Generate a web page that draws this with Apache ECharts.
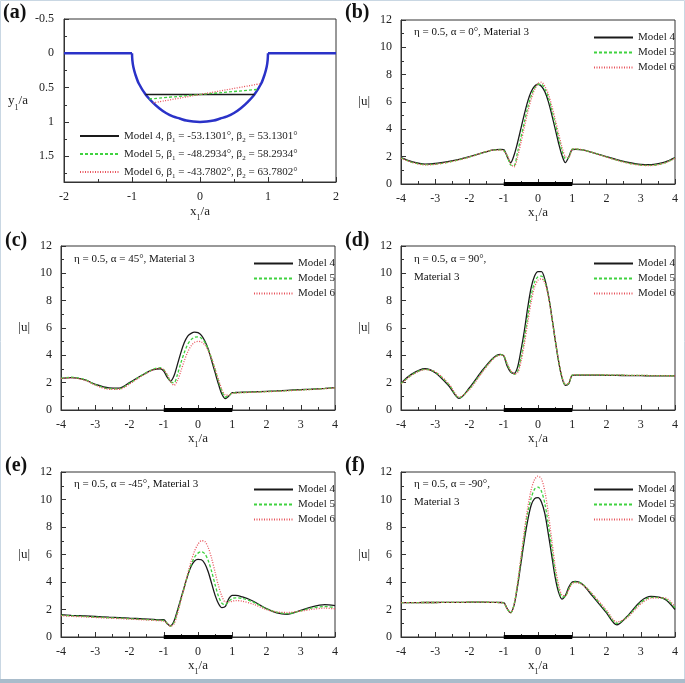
<!DOCTYPE html>
<html>
<head>
<meta charset="utf-8">
<script src="https://cdn.jsdelivr.net/npm/echarts@6/dist/echarts.min.js"></script>
<style>
  html, body { margin: 0; padding: 0; background: #fff; }
  #chart { width: 685px; height: 683px; }
</style>
</head>
<body>
<div id="chart"></div>
<script>
// x1/a sample positions shared by panels (b)-(f)
const xs = [-4, -3.7, -3.3, -3, -2.6, -2.3, -2, -1.6, -1.3, -1.1, -1, -0.9, -0.8, -0.7, -0.6, -0.5, -0.4, -0.3, -0.2, -0.1,
  0, 0.1, 0.2, 0.3, 0.4, 0.5, 0.6, 0.7, 0.8, 0.9, 1, 1.1, 1.3, 1.6, 2, 2.3, 2.6, 3, 3.3, 3.7, 4];

// (b) alpha = 0
const b4 = [1.93,1.65,1.46,1.5,1.65,1.8,2.0,2.3,2.5,2.54,2.52,2.0,1.56,2.1,3.0,4.05,5.1,6.05,6.75,7.15,7.3,7.15,6.75,6.05,5.1,4.05,3.0,2.1,1.56,2.0,2.52,2.54,2.5,2.3,2.0,1.78,1.6,1.44,1.42,1.6,1.93];
const b5 = [1.9,1.6,1.42,1.45,1.6,1.78,1.98,2.3,2.48,2.5,2.45,2.05,1.4,1.35,2.3,3.4,4.5,5.6,6.45,7.0,7.3,7.3,6.95,6.35,5.45,4.45,3.4,2.45,1.85,1.95,2.55,2.56,2.5,2.3,1.98,1.75,1.55,1.38,1.36,1.55,1.9];
const b6 = [1.88,1.6,1.4,1.44,1.6,1.77,1.97,2.3,2.48,2.48,2.42,2.1,1.5,1.25,1.95,3.0,4.15,5.25,6.2,6.9,7.35,7.45,7.15,6.6,5.75,4.75,3.7,2.7,2.0,1.95,2.55,2.57,2.5,2.3,1.97,1.74,1.54,1.37,1.35,1.54,1.88];
// (c) alpha = 45
const c4 = [2.29,2.37,2.2,1.88,1.62,1.6,2.0,2.6,2.95,3.02,2.85,2.4,2.12,2.5,3.34,4.2,4.93,5.41,5.61,5.7,5.66,5.46,5.05,4.44,3.59,2.73,1.88,1.15,0.83,1.02,1.27,1.28,1.3,1.33,1.37,1.4,1.44,1.49,1.52,1.58,1.63];
const c5 = [2.33,2.4,2.22,1.85,1.56,1.55,1.95,2.6,3.0,3.1,2.95,2.55,2.05,2.0,2.6,3.45,4.2,4.8,5.15,5.32,5.35,5.25,4.95,4.45,3.75,2.95,2.1,1.35,0.95,1.05,1.25,1.26,1.28,1.31,1.35,1.38,1.42,1.47,1.51,1.57,1.62];
const c6 = [2.3,2.35,2.18,1.82,1.52,1.52,1.9,2.55,2.95,3.05,2.95,2.6,2.1,1.8,2.15,2.85,3.6,4.25,4.7,4.95,5.02,4.98,4.75,4.35,3.75,3.0,2.2,1.5,1.1,1.08,1.22,1.24,1.27,1.3,1.34,1.37,1.41,1.46,1.5,1.56,1.62];
// (d) alpha = 90
const d4 = [1.95,2.61,3.02,2.73,1.76,0.85,1.63,2.98,3.83,4.07,3.95,3.22,2.78,2.68,3.1,4.32,5.78,7.49,8.95,9.8,10.12,10.12,9.56,8.46,6.88,5.17,3.59,2.37,1.8,1.93,2.54,2.55,2.55,2.55,2.54,2.53,2.52,2.51,2.5,2.49,2.49];
const d5 = [1.92,2.55,2.98,2.78,1.85,0.9,1.55,2.9,3.78,4.05,3.98,3.35,2.85,2.6,2.8,3.8,5.2,6.85,8.35,9.35,9.75,9.8,9.4,8.4,6.85,5.15,3.6,2.4,1.85,1.95,2.56,2.57,2.57,2.57,2.56,2.55,2.54,2.53,2.52,2.51,2.5];
const d6 = [1.9,2.52,2.95,2.8,1.9,0.95,1.5,2.85,3.75,4.02,3.98,3.4,2.9,2.65,2.7,3.5,4.8,6.4,7.9,9.0,9.5,9.6,9.3,8.35,6.85,5.2,3.65,2.45,1.9,1.97,2.56,2.57,2.57,2.57,2.56,2.55,2.54,2.53,2.52,2.51,2.5];
// (e) alpha = -45
const e4 = [1.62,1.58,1.53,1.49,1.44,1.41,1.37,1.32,1.28,1.25,1.26,0.97,0.82,1.16,1.94,2.79,3.64,4.48,5.14,5.53,5.65,5.62,5.33,4.73,3.88,3.03,2.42,2.13,2.22,2.79,3.03,3.03,2.91,2.62,2.06,1.75,1.65,1.94,2.18,2.35,2.28];
const e5 = [1.58,1.54,1.49,1.45,1.4,1.37,1.33,1.28,1.24,1.21,1.2,1.0,0.8,1.05,1.8,2.7,3.6,4.5,5.25,5.8,6.1,6.2,6.05,5.55,4.75,3.8,2.95,2.45,2.35,2.6,2.8,2.85,2.8,2.55,2.05,1.8,1.7,1.9,2.1,2.22,2.15];
const e6 = [1.55,1.5,1.46,1.42,1.37,1.34,1.3,1.25,1.21,1.18,1.15,1.0,0.78,0.95,1.7,2.65,3.6,4.6,5.5,6.25,6.75,7.0,6.95,6.5,5.7,4.7,3.7,2.95,2.55,2.55,2.6,2.65,2.6,2.4,2.0,1.82,1.78,1.88,2.0,2.1,2.05];
// (f) alpha = -90
const f4 = [2.5,2.5,2.51,2.51,2.52,2.52,2.53,2.53,2.52,2.51,2.5,2.06,1.77,2.3,3.64,5.33,7.03,8.48,9.58,10.06,10.13,9.82,8.97,7.52,5.94,4.36,3.27,2.76,3.03,3.64,4.0,4.05,3.83,2.95,1.75,0.88,1.5,2.6,2.95,2.75,2.0];
const f5 = [2.5,2.5,2.51,2.51,2.52,2.52,2.53,2.53,2.52,2.5,2.48,2.05,1.75,2.35,3.8,5.6,7.4,9.0,10.1,10.75,10.9,10.6,9.7,8.2,6.5,4.8,3.55,2.9,2.95,3.5,3.95,4.0,3.85,3.05,1.85,1.0,1.45,2.5,2.88,2.8,2.12];
const f6 = [2.5,2.5,2.51,2.51,2.52,2.52,2.53,2.53,2.52,2.5,2.47,2.05,1.75,2.35,3.85,5.75,7.7,9.4,10.7,11.45,11.7,11.5,10.6,9.0,7.1,5.2,3.8,3.05,3.0,3.45,3.9,3.95,3.8,3.1,1.95,1.1,1.4,2.4,2.82,2.85,2.2];

// (a) canyon profile (y1/a measured downwards)
const leftSurfX = [-2, -1];
const leftSurfY = [0, 0];
const rightSurfX = [1, 2];
const rightSurfY = [0, 0];
const arcX = [-1,-0.995,-0.98,-0.95,-0.9,-0.8,-0.7,-0.6,-0.5,-0.4,-0.3,-0.2,-0.1,0,0.1,0.2,0.3,0.4,0.5,0.6,0.7,0.8,0.9,0.95,0.98,0.995,1];
const arcY = [0,0.1,0.2,0.31,0.44,0.6,0.71,0.8,0.87,0.92,0.95,0.98,0.995,1,0.995,0.98,0.95,0.92,0.87,0.8,0.71,0.6,0.44,0.31,0.2,0.1,0];
// interface chords, end points on the arc
const chord4X = [-0.8, 0.8];
const chord4Y = [0.6, 0.6];
const chord5X = [-0.7465, 0.8506];
const chord5Y = [0.6655, 0.5258];
const chord6X = [-0.6919, 0.8972];
const chord6Y = [0.722, 0.4418];

// black strip on the x axis under the canyon
const stripX = [-1, 1];
const stripY = [0, 0];

const modelNames = ['Model 4', 'Model 5', 'Model 6'];
const aLegend = {
  A4: 'Model 4, β{s|1} = -53.1301°, β{s|2} = 53.1301°',
  A5: 'Model 5, β{s|1} = -48.2934°, β{s|2} = 58.2934°',
  A6: 'Model 6, β{s|1} = -43.7802°, β{s|2} = 63.7802°'
};

const FONT = "'Liberation Serif', 'DejaVu Serif', serif";
const AX = '#333';
const C4 = '#1a1a1a', C5 = '#3fd23f', C6 = '#e8545c';

const pair = (x, y) => x.map((v, k) => [v, y[k]]);

const rich = {
  i: { fontFamily: FONT, fontSize: 13, color: '#222', lineHeight: 14, verticalAlign: 'bottom' },
  s: { fontFamily: FONT, fontSize: 8, color: '#222', lineHeight: 14, verticalAlign: 'bottom', padding: [0, 0, -4, 0] }
};

// panel frames (px)
const grids = [
  { left: 64, top: 19, width: 272, height: 163 },
  { left: 401, top: 20, width: 274, height: 164 },
  { left: 61, top: 246, width: 274, height: 164 },
  { left: 401, top: 246, width: 274, height: 164 },
  { left: 61, top: 472, width: 274, height: 165 },
  { left: 401, top: 472, width: 274, height: 165 }
];

function xAxisFor(i) {
  const a = i === 0;
  return {
    type: 'value', gridIndex: i,
    min: a ? -2 : -4, max: a ? 2 : 4, interval: 1,
    axisLine: { show: true, onZero: false, lineStyle: { color: AX } },
    axisTick: { inside: true, length: 5, lineStyle: { color: AX } },
    minorTick: { show: true, splitNumber: 2, length: 3, lineStyle: { color: AX } },
    splitLine: { show: false },
    axisLabel: { color: '#222', fontFamily: FONT, fontSize: 12, margin: 9 },
    name: '{i|x}{s|1}{i|/a}', nameLocation: 'middle', nameGap: a ? 22 : 20,
    nameTextStyle: { rich: rich }
  };
}

function yAxisFor(i) {
  const base = {
    type: 'value', gridIndex: i,
    axisLine: { show: true, onZero: false, lineStyle: { color: AX } },
    axisTick: { inside: true, length: 5, lineStyle: { color: AX } },
    minorTick: { show: true, splitNumber: 2, length: 3, lineStyle: { color: AX } },
    splitLine: { show: false },
    nameLocation: 'middle', nameRotate: 0,
    nameTextStyle: { rich: rich, fontFamily: FONT, fontSize: 13, color: '#222' }
  };
  if (i === 0) {
    return Object.assign(base, {
      inverse: true, min: -0.5, max: 1.875, interval: 0.5,
      axisLabel: {
        color: '#222', fontFamily: FONT, fontSize: 12, margin: 10,
        formatter: v => (Math.abs(v * 2 - Math.round(v * 2)) < 1e-6 ? String(v) : '')
      },
      name: '{i|y}{s|1}{i|/a}', nameGap: 36
    });
  }
  return Object.assign(base, {
    min: 0, max: 12, interval: 2,
    axisLabel: { color: '#222', fontFamily: FONT, fontSize: 12, margin: 9 },
    name: '|u|', nameGap: 31
  });
}

function lineSeries(name, i, x, y, color, type, width) {
  return {
    type: 'line', name: name, xAxisIndex: i, yAxisIndex: i,
    data: pair(x, y), symbol: 'none', showSymbol: false, smooth: 0.3,
    lineStyle: { color: color, width: width, type: type },
    itemStyle: { color: color }, silent: true
  };
}

const panels = [
  [b4, b5, b6], [c4, c5, c6], [d4, d5, d6], [e4, e5, e6], [f4, f5, f6]
];

const series = [];
// panel (a)
const BLUE = '#2a32c8';
series.push(lineSeries('surfL', 0, leftSurfX, leftSurfY, BLUE, 'solid', 2.5));
series.push(lineSeries('arc', 0, arcX, arcY, BLUE, 'solid', 2.5));
series.push(lineSeries('surfR', 0, rightSurfX, rightSurfY, BLUE, 'solid', 2.5));
series.push(lineSeries('A4', 0, chord4X, chord4Y, C4, 'solid', 1.3));
series.push(lineSeries('A5', 0, chord5X, chord5Y, C5, [3, 2], 1.3));
series.push(lineSeries('A6', 0, chord6X, chord6Y, C6, [1, 1.5], 1.3));

// panels (b)-(f)
panels.forEach((p, k) => {
  const i = k + 1;
  series.push(lineSeries(modelNames[0], i, xs, p[0], C4, 'solid', 1.3));
  series.push(lineSeries(modelNames[1], i, xs, p[1], C5, [3, 2], 1.3));
  series.push(lineSeries(modelNames[2], i, xs, p[2], C6, [1, 1.5], 1.3));
  const strip = lineSeries('strip', i, stripX, stripY, '#000', 'solid', 4);
  strip.smooth = false;
  strip.clip = false;
  strip.z = 5;
  series.push(strip);
});

const legendText = { fontFamily: FONT, fontSize: 11, color: '#222' };
const legendPos = [
  { left: 588, top: 27 }, { left: 248, top: 253 }, { left: 588, top: 253 },
  { left: 248, top: 479 }, { left: 588, top: 479 }
];
// legend keeps only the line sample, no marker
const legendBase = {
  orient: 'vertical', itemWidth: 39, itemHeight: 10, selectedMode: false,
  itemStyle: { opacity: 0, borderWidth: 0 }
};
const legends = [Object.assign({}, legendBase, {
  data: ['A4', 'A5', 'A6'], left: 79, top: 129, itemGap: 3, padding: 0,
  formatter: n => aLegend[n],
  textStyle: Object.assign({}, legendText, {
    lineHeight: 14,
    rich: { s: { fontFamily: FONT, fontSize: 7, color: '#222', lineHeight: 14, padding: [0, 0, -1, 0], verticalAlign: 'bottom' } }
  })
})];
legendPos.forEach(p => legends.push(Object.assign({}, legendBase, {
  data: modelNames, left: p.left, top: p.top, itemGap: 4, textStyle: legendText
})));

const labelFont = 'bold 20px ' + FONT;
const noteFont = '11px ' + FONT;
const txt = (left, top, text, font) => ({ type: 'text', left: left, top: top, style: { text: text, font: font, fill: '#111' } });

const graphics = [
  // thin frame and bottom strip of the figure page
  { type: 'rect', shape: { x: 0.5, y: 0.5, width: 684, height: 682 }, style: { fill: null, stroke: '#c9d7e3', lineWidth: 1 }, z: 100 },
  { type: 'rect', shape: { x: 0, y: 679, width: 685, height: 4 }, style: { fill: '#a9bccb' }, z: 100 },
  txt(3, 3, '(a)', labelFont), txt(345, 3, '(b)', labelFont),
  txt(5, 231, '(c)', labelFont), txt(345, 231, '(d)', labelFont),
  txt(5, 456, '(e)', labelFont), txt(345, 456, '(f)', labelFont),
  txt(414, 27, 'η = 0.5, α = 0°, Material 3', noteFont),
  txt(74, 254, 'η = 0.5, α = 45°, Material 3', noteFont),
  txt(414, 254, 'η = 0.5, α = 90°,', noteFont),
  txt(414, 272, 'Material 3', noteFont),
  txt(74, 479, 'η = 0.5, α = -45°, Material 3', noteFont),
  txt(414, 479, 'η = 0.5, α = -90°,', noteFont),
  txt(414, 497, 'Material 3', noteFont)
];

const chart = echarts.init(document.getElementById('chart'), null, { renderer: 'canvas' });
chart.setOption({
  backgroundColor: '#fff',
  animation: false,
  textStyle: { fontFamily: FONT },
  grid: grids.map(g => Object.assign({ show: true, borderColor: AX, borderWidth: 1, backgroundColor: 'transparent' }, g)),
  xAxis: grids.map((g, i) => xAxisFor(i)),
  yAxis: grids.map((g, i) => yAxisFor(i)),
  legend: legends,
  series: series,
  graphic: graphics
});
</script>
</body>
</html>
